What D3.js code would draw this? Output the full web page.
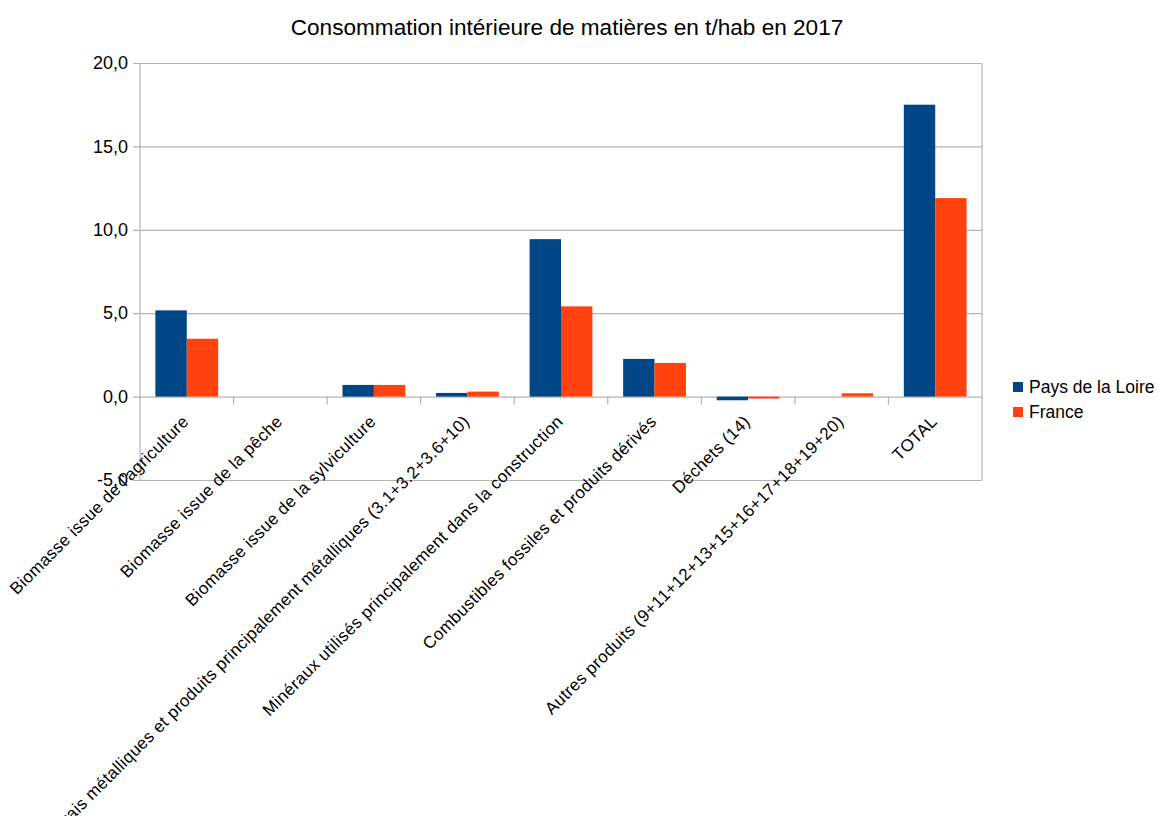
<!DOCTYPE html>
<html>
<head>
<meta charset="utf-8">
<script src="https://cdn.jsdelivr.net/npm/d3@7"></script>
<style>
  html, body { margin: 0; padding: 0; background: #fff; }
  svg { display: block; font-family: "Liberation Sans", Arial, sans-serif; }
</style>
</head>
<body>
<svg id="chart" width="1158" height="816"></svg>
<script>
// Consommation intérieure de matières (t/hab), 2017
const categories = [
  "Biomasse issue de l'agriculture",
  "Biomasse issue de la pêche",
  "Biomasse issue de la sylviculture",
  "Minerais métalliques et produits principalement métalliques (3.1+3.2+3.6+10)",
  "Minéraux utilisés principalement dans la construction",
  "Combustibles fossiles et produits dérivés",
  "Déchets (14)",
  "Autres produits (9+11+12+13+15+16+17+18+19+20)",
  "TOTAL"
];
const seriesNames = ["Pays de la Loire", "France"];
const paysDeLaLoire = [5.17, 0.0, 0.70, 0.22, 9.44, 2.26, -0.22, 0.0, 17.5];
const france =        [3.47, 0.0, 0.70, 0.30, 5.41, 2.02, -0.12, 0.20, 11.9];
const seriesColors = ["#004586", "#ff420e"];
const yTicks = [-5, 0, 5, 10, 15, 20];

const svg = d3.select("#chart");
const margin = { left: 140, right: 176, top: 63, bottom: 336 };
const W = 1158, H = 816;
const x0 = margin.left, x1 = W - margin.right;
const yTop = margin.top, yBot = H - margin.bottom;

const x = d3.scaleBand().domain(categories).range([x0, x1]).padding(0);
const xs = d3.scaleBand().domain(seriesNames).range([0, x.bandwidth()])
  .paddingInner(0).paddingOuter(0.49);
const y = d3.scaleLinear().domain([-5, 20]).range([yBot, yTop]);

const fmt = v => d3.format(".1f")(v).replace(".", ",").replace("−", "-");

// Title
svg.append("text")
  .attr("x", 567).attr("y", 35)
  .attr("text-anchor", "middle")
  .attr("font-size", 22.6)
  .attr("fill", "#000")
  .text("Consommation intérieure de matières en t/hab en 2017");

// Horizontal gridlines + y axis
const gy = svg.append("g").attr("transform", `translate(${x0},0)`)
  .call(d3.axisLeft(y).tickValues(yTicks).tickFormat(fmt)
    .tickSize(-(x1 - x0)).tickSizeOuter(0).tickPadding(12));
gy.select(".domain").remove();
gy.selectAll(".tick line").attr("stroke", "#b3b3b3").attr("stroke-width", 1.2)
  .attr("x1", -7);
gy.selectAll(".tick text").attr("font-size", 18).attr("fill", "#000")
  .attr("font-family", "Liberation Sans, Arial, sans-serif");

// Plot frame verticals
svg.append("line").attr("x1", x0).attr("x2", x0).attr("y1", yTop).attr("y2", yBot)
  .attr("stroke", "#b3b3b3").attr("stroke-width", 1.2);
svg.append("line").attr("x1", x1).attr("x2", x1).attr("y1", yTop).attr("y2", yBot)
  .attr("stroke", "#b3b3b3").attr("stroke-width", 1.2);

// Bars
const rows = categories.map((c, i) => ({ cat: c, vals: [paysDeLaLoire[i], france[i]] }));
const groups = svg.append("g").selectAll("g").data(rows).join("g")
  .attr("transform", d => `translate(${x(d.cat)},0)`);
groups.selectAll("rect")
  .data(d => d.vals.map((v, k) => ({ name: seriesNames[k], v, k })))
  .join("rect")
  .attr("x", d => xs(d.name))
  .attr("width", xs.bandwidth())
  .attr("y", d => y(Math.max(0, d.v)))
  .attr("height", d => Math.abs(y(d.v) - y(0)))
  .attr("fill", d => seriesColors[d.k]);

// Category separators on the zero line
const tickPos = categories.slice(1).map(c => x(c));
svg.append("g").selectAll("line").data(tickPos).join("line")
  .attr("x1", d => d).attr("x2", d => d)
  .attr("y1", y(0)).attr("y2", y(0) + 8)
  .attr("stroke", "#b3b3b3").attr("stroke-width", 1.2);

// Rotated category labels
svg.append("g").selectAll("text").data(categories).join("text")
  .attr("text-anchor", "end")
  .attr("font-size", 17)
  .attr("letter-spacing", 0.35)
  .attr("fill", "#000")
  .attr("transform", d => `translate(${x(d) + x.bandwidth() / 2 + 3},${y(0) + 26}) rotate(-45)`)
  .text(d => d);

// Legend
const lg = svg.append("g").attr("transform", "translate(1013,382)");
seriesNames.forEach((n, i) => {
  lg.append("rect").attr("x", 0).attr("y", i * 25).attr("width", 10).attr("height", 10)
    .attr("fill", seriesColors[i]);
  lg.append("text").attr("x", 16).attr("y", i * 25 + 11)
    .attr("font-size", 17.5).attr("fill", "#000").text(n);
});
</script>
</body>
</html>
